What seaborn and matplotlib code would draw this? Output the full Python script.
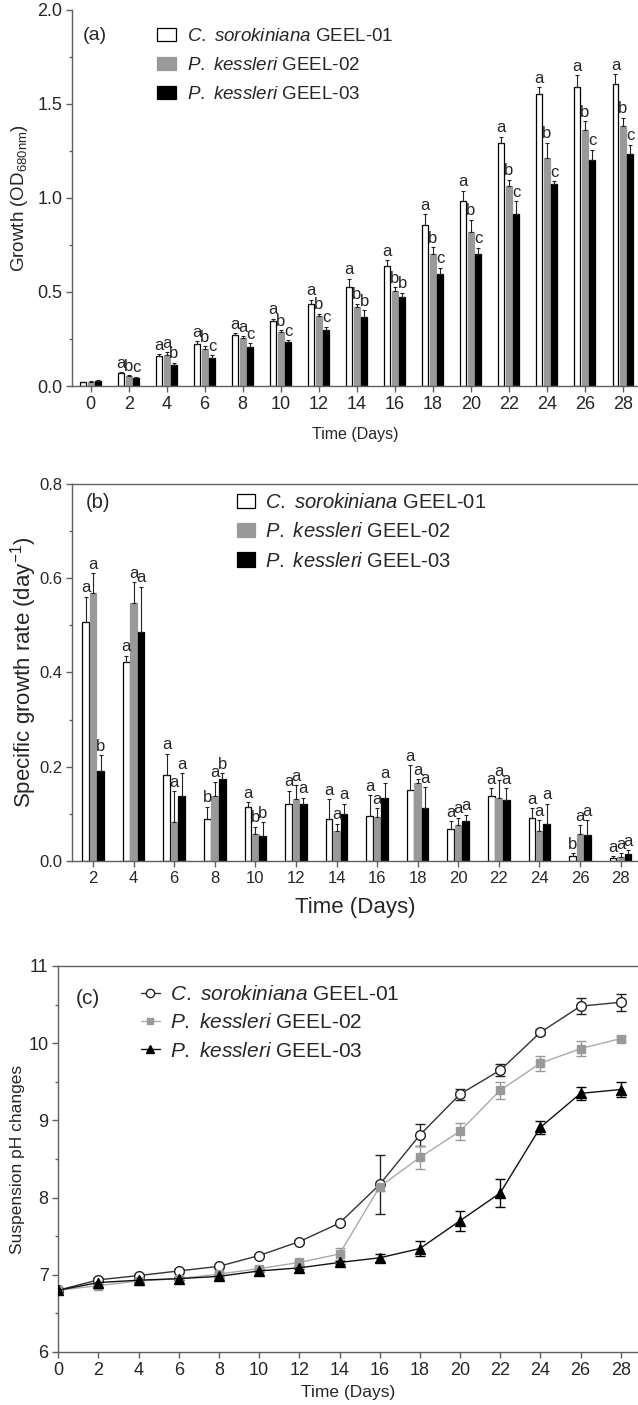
import matplotlib
matplotlib.use("Agg")
import matplotlib.pyplot as plt
from matplotlib.ticker import MultipleLocator
from matplotlib.patches import Patch
from matplotlib.lines import Line2D
import pandas as pd
import seaborn as sns

strains = ["GEEL-01", "GEEL-02", "GEEL-03"]
labels = [r"$\it{C.}$ $\it{sorokiniana}$ GEEL-01",
          r"$\it{P.}$ $\it{kessleri}$ GEEL-02",
          r"$\it{P.}$ $\it{kessleri}$ GEEL-03"]

# (a) growth, OD680
days_a = [0, 2, 4, 6, 8, 10, 12, 14, 16, 18, 20, 22, 24, 26, 28]
od_01 = [0.02, 0.067, 0.159, 0.226, 0.27, 0.344, 0.438, 0.526, 0.636, 0.858, 0.986, 1.295, 1.551, 1.59, 1.607]
od_02 = [0.022, 0.053, 0.164, 0.196, 0.253, 0.285, 0.371, 0.42, 0.503, 0.703, 0.818, 1.065, 1.215, 1.364, 1.383]
od_03 = [0.028, 0.04, 0.111, 0.15, 0.21, 0.235, 0.297, 0.367, 0.473, 0.595, 0.703, 0.915, 1.072, 1.201, 1.233]
od_err_01 = [0.003, 0.005, 0.01, 0.012, 0.012, 0.015, 0.021, 0.044, 0.032, 0.056, 0.053, 0.032, 0.04, 0.063, 0.053]
od_err_02 = [0.003, 0.005, 0.015, 0.015, 0.012, 0.012, 0.014, 0.018, 0.023, 0.035, 0.067, 0.032, 0.08, 0.045, 0.044]
od_err_03 = [0.003, 0.01, 0.012, 0.013, 0.018, 0.008, 0.018, 0.035, 0.023, 0.034, 0.032, 0.068, 0.017, 0.055, 0.05]
let_a_01 = ["", "a", "a", "a", "a", "a", "a", "a", "a", "a", "a", "a", "a", "a", "a"]
let_a_02 = ["", "b", "a", "b", "a", "b", "b", "b", "b", "b", "b", "b", "b", "b", "b"]
let_a_03 = ["", "c", "b", "c", "c", "c", "c", "b", "b", "c", "c", "c", "c", "c", "c"]

# (b) specific growth rate
days_b = [2, 4, 6, 8, 10, 12, 14, 16, 18, 20, 22, 24, 26, 28]
mu_01 = [0.507, 0.422, 0.183, 0.089, 0.114, 0.122, 0.089, 0.095, 0.151, 0.067, 0.138, 0.091, 0.010, 0.006]
mu_02 = [0.569, 0.547, 0.082, 0.137, 0.057, 0.131, 0.063, 0.094, 0.166, 0.076, 0.134, 0.063, 0.058, 0.009]
mu_03 = [0.190, 0.485, 0.137, 0.174, 0.052, 0.120, 0.099, 0.133, 0.112, 0.085, 0.129, 0.079, 0.056, 0.014]
mu_err_01 = [0.054, 0.014, 0.045, 0.026, 0.011, 0.027, 0.042, 0.044, 0.052, 0.018, 0.017, 0.021, 0.006, 0.004]
mu_err_02 = [0.042, 0.045, 0.066, 0.031, 0.016, 0.030, 0.016, 0.018, 0.007, 0.016, 0.037, 0.024, 0.018, 0.007]
mu_err_03 = [0.035, 0.097, 0.049, 0.012, 0.030, 0.014, 0.023, 0.033, 0.045, 0.013, 0.026, 0.043, 0.031, 0.009]
let_b_01 = ["a", "a", "a", "b", "a", "a", "a", "a", "a", "a", "a", "a", "b", "a"]
let_b_02 = ["a", "a", "a", "a", "b", "a", "a", "a", "a", "a", "a", "a", "a", "a"]
let_b_03 = ["b", "a", "a", "b", "b", "a", "a", "a", "a", "a", "a", "a", "a", "a"]

# (c) suspension pH
days_c = [0, 2, 4, 6, 8, 10, 12, 14, 16, 18, 20, 22, 24, 26, 28]
ph_01 = [6.8, 6.935, 6.99, 7.05, 7.11, 7.25, 7.43, 7.67, 8.17, 8.81, 9.34, 9.65, 10.14, 10.48, 10.53]
ph_02 = [6.8, 6.86, 6.92, 6.95, 7.01, 7.08, 7.16, 7.27, 8.14, 8.52, 8.86, 9.39, 9.74, 9.93, 10.06]
ph_03 = [6.8, 6.9, 6.93, 6.95, 6.98, 7.05, 7.09, 7.16, 7.22, 7.34, 7.70, 8.06, 8.91, 9.35, 9.40]
ph_err_01 = [0.02, 0.02, 0.02, 0.02, 0.02, 0.02, 0.02, 0.02, 0.38, 0.14, 0.07, 0.08, 0.04, 0.10, 0.11]
ph_err_02 = [0.02, 0.02, 0.02, 0.02, 0.02, 0.02, 0.02, 0.08, 0.05, 0.15, 0.11, 0.11, 0.10, 0.10, 0.03]
ph_err_03 = [0.02, 0.02, 0.02, 0.02, 0.02, 0.02, 0.02, 0.02, 0.05, 0.10, 0.13, 0.18, 0.085, 0.08, 0.10]

bar_fill = ["white", "#999999", "black"]
bar_edge = ["black", "#999999", "black"]
axis_grey = "#606060"

sns.set_style("ticks")
plt.rcParams["font.family"] = ["Liberation Sans", "DejaVu Sans"]
plt.rcParams["mathtext.fontset"] = "custom"
plt.rcParams["mathtext.rm"] = "Liberation Sans"
plt.rcParams["mathtext.it"] = "Liberation Sans:italic"


def long_table(days, series):
    rows = []
    for name, vals in zip(strains, series):
        for d, v in zip(days, vals):
            rows.append({"day": d, "strain": name, "value": v})
    return pd.DataFrame(rows)


def style_axis(ax, tick_size, top=False):
    for side in ["left", "bottom", "top"]:
        ax.spines[side].set_color(axis_grey)
        ax.spines[side].set_linewidth(1.0)
    ax.spines["right"].set_visible(False)
    ax.spines["top"].set_visible(top)
    ax.tick_params(axis="both", which="major", direction="out", length=4,
                   width=1, color=axis_grey, labelsize=tick_size, pad=3)
    ax.tick_params(axis="y", which="minor", direction="out", length=2.5,
                   width=1, color=axis_grey)
    ax.set_xlabel("")
    ax.set_ylabel("")


def bar_panel(ax, days, series, errs, letters, width, gap, letter_size):
    df = long_table(days, series)
    sns.barplot(data=df, x="day", y="value", hue="strain", hue_order=strains,
                palette=bar_fill, saturation=1, width=width, gap=gap,
                linewidth=0.9, errorbar=None, legend=False, ax=ax)
    for cont, ec, err, let in zip(ax.containers, bar_edge, errs, letters):
        xs, hs = [], []
        for bar in cont:
            bar.set_edgecolor(ec)
            xs.append(bar.get_x() + bar.get_width() / 2)
            hs.append(bar.get_height())
        ax.errorbar(xs, hs, yerr=[[0] * len(err), err], fmt="none",
                    ecolor="#222222", elinewidth=0.8, capsize=1.6,
                    capthick=0.8, zorder=1)
        for x, h, e, t in zip(xs, hs, err, let):
            if t:
                ax.annotate(t, (x, h + e), xytext=(0, 1), textcoords="offset points",
                            ha="center", va="bottom", fontsize=letter_size)


W, H = 638, 1405
fig = plt.figure(figsize=(W / 100, H / 100), dpi=100)


def add_axes(left, top, bottom):
    return fig.add_axes([left / W, 1 - bottom / H, 1 - left / W, (bottom - top) / H])


# ---- panel (a)
ax_a = add_axes(72, 10, 386)
bar_panel(ax_a, days_a, [od_01, od_02, od_03], [od_err_01, od_err_02, od_err_03],
          [let_a_01, let_a_02, let_a_03], 0.58, 0.2, 12)
ax_a.set_ylim(0, 2.0)
ax_a.set_xlim(-0.49, 14.4)
ax_a.yaxis.set_major_locator(MultipleLocator(0.5))
ax_a.yaxis.set_minor_locator(MultipleLocator(0.25))
ax_a.yaxis.set_major_formatter(lambda v, p: f"{v:.1f}")
style_axis(ax_a, 13)
fig.text(355 / W, 1 - 435 / H, "Time (Days)", ha="center", va="center", fontsize=11.5)
fig.text(20 / W, 1 - 198 / H, r"Growth (OD$_{\mathrm{680nm}}$)", rotation=90,
         ha="center", va="center", fontsize=13.5)
fig.text(83 / W, 1 - 36 / H, "(a)", ha="left", va="center", fontsize=14)
patches = [Patch(facecolor=f, edgecolor=e, linewidth=0.9) for f, e in zip(bar_fill, bar_edge)]
ax_a.legend(patches, labels, loc="upper left", bbox_to_anchor=(157 / W, 1 - 28 / H),
            bbox_transform=fig.transFigure, frameon=False, fontsize=13.5,
            borderpad=0, borderaxespad=0, handlelength=1.0, handleheight=0.7,
            handletextpad=0.6, labelspacing=0.64)

# ---- panel (b)
ax_b = add_axes(72, 484, 861)
bar_panel(ax_b, days_b, [mu_01, mu_02, mu_03], [mu_err_01, mu_err_02, mu_err_03],
          [let_b_01, let_b_02, let_b_03], 0.55, 0.1, 12)
ax_b.set_ylim(0, 0.8)
ax_b.set_xlim(-0.52, 13.43)
ax_b.yaxis.set_major_locator(MultipleLocator(0.2))
ax_b.yaxis.set_minor_locator(MultipleLocator(0.1))
ax_b.yaxis.set_major_formatter(lambda v, p: f"{v:.1f}")
style_axis(ax_b, 12, top=True)
fig.text(355 / W, 1 - 907 / H, "Time (Days)", ha="center", va="center", fontsize=16)
fig.text(24 / W, 1 - 672 / H, r"Specific growth rate (day$^{-1}$)", rotation=90,
         ha="center", va="center", fontsize=16)
fig.text(86 / W, 1 - 502 / H, "(b)", ha="left", va="center", fontsize=14.5)
ax_b.legend(patches, labels, loc="upper left", bbox_to_anchor=(237 / W, 1 - 493 / H),
            bbox_transform=fig.transFigure, frameon=False, fontsize=14.5,
            borderpad=0, borderaxespad=0, handlelength=0.9, handleheight=0.7,
            handletextpad=0.5, labelspacing=0.51)

# ---- panel (c)
ax_c = add_axes(58.3, 966, 1352)
line_col = ["#333333", "#aaaaaa", "#111111"]
mark_face = ["white", "#999999", "black"]
mark_edge = ["#222222", "#999999", "black"]
markers = ["o", "s", "^"]
msizes = [7, 6, 6.5]
handles = []
for ph, err, lc, mf, me, mk, ms in zip([ph_01, ph_02, ph_03], [ph_err_01, ph_err_02, ph_err_03],
                                        line_col, mark_face, mark_edge, markers, msizes):
    ax_c.errorbar(days_c, ph, yerr=err, fmt="none", ecolor=me, elinewidth=1.0,
                  capsize=3.5, capthick=1.0, zorder=2)
    sns.lineplot(x=days_c, y=ph, color=lc, linewidth=1.0, marker=mk, markersize=ms,
                 markerfacecolor=mf, markeredgecolor=me, markeredgewidth=1.0, ax=ax_c, zorder=3)
    handles.append(Line2D([], [], color=lc, linewidth=1.0, marker=mk, markersize=ms - 1,
                          markerfacecolor=mf, markeredgecolor=me))
ax_c.set_xlim(0, 28.86)
ax_c.set_ylim(6, 11)
ax_c.xaxis.set_major_locator(MultipleLocator(2))
ax_c.yaxis.set_major_locator(MultipleLocator(1))
ax_c.yaxis.set_minor_locator(MultipleLocator(0.5))
style_axis(ax_c, 13, top=True)
fig.text(348 / W, 1 - 1393 / H, "Time (Days)", ha="center", va="center", fontsize=12.5)
fig.text(18 / W, 1 - 1159 / H, "Suspension pH changes", rotation=90,
         ha="center", va="center", fontsize=12.5)
fig.text(76 / W, 1 - 998 / H, "(c)", ha="left", va="center", fontsize=15)
ax_c.legend(handles, labels, loc="upper left", bbox_to_anchor=(141 / W, 1 - 985 / H),
            bbox_transform=fig.transFigure, frameon=False, fontsize=15,
            borderpad=0, borderaxespad=0, handlelength=0.9,
            handletextpad=0.5, labelspacing=0.45)

fig.savefig("out.png", dpi=100)
